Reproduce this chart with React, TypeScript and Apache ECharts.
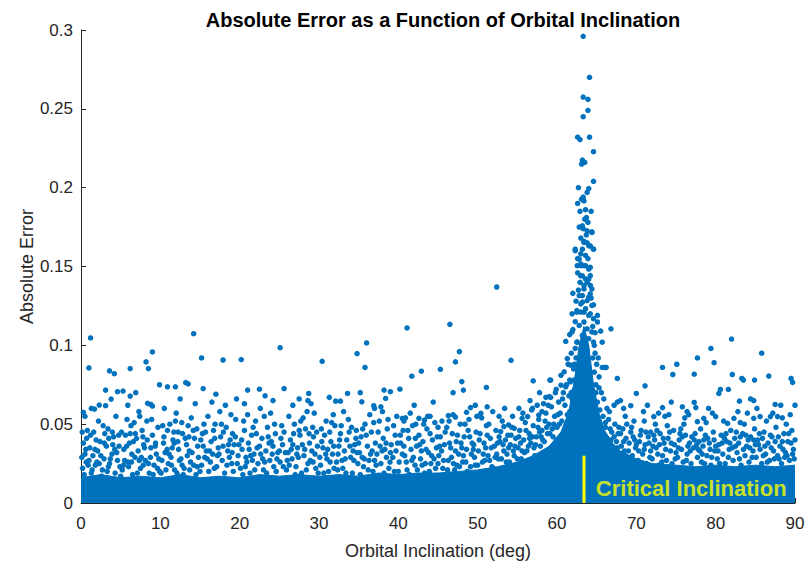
import React, { useEffect, useRef } from "react";
import * as echarts from "echarts";

const BLUE = "#0072BD";
const FONT = "Liberation Sans, Arial, Helvetica, sans-serif";

// Upper edge of the saturated (solid) band of points
const bandInclination = [0, 2.5, 5, 7.5, 10, 12.5, 15, 17.5, 20, 22.5, 25, 27.5, 30, 32.5, 35, 37.5, 40, 42.5, 45, 47.5, 50, 52.5, 55, 57, 59, 60.5, 61.5, 62.2, 62.8, 63.4, 64.0, 64.6, 65.3, 66, 67, 68, 70, 72, 75, 77.5, 80, 82.5, 85, 87.5, 90];
const bandTop = [0.016, 0.018, 0.016, 0.017, 0.016, 0.018, 0.016, 0.017, 0.016, 0.018, 0.017, 0.018, 0.017, 0.018, 0.017, 0.019, 0.018, 0.019, 0.019, 0.02, 0.021, 0.023, 0.026, 0.03, 0.036, 0.045, 0.058, 0.078, 0.1, 0.112, 0.1, 0.075, 0.057, 0.046, 0.038, 0.033, 0.028, 0.025, 0.024, 0.023, 0.024, 0.023, 0.024, 0.023, 0.024];

// Scattered points, 0-30 deg
const pointsLeftA: [number, number][] = [
  [0.2, 0.022], [0.5, 0.031], [0.3, 0.038], [0.7, 0.041], [1.0, 0.027], [1.3, 0.019], [1.1, 0.035], [1.6, 0.045], [1.8, 0.024], [2.1, 0.033],
  [2.4, 0.039], [2.2, 0.052], [2.7, 0.021], [2.9, 0.028], [3.2, 0.036], [3.4, 0.047], [3.6, 0.025], [3.9, 0.031], [4.1, 0.042], [4.3, 0.019],
  [4.6, 0.027], [4.8, 0.036], [4.4, 0.055], [3.0, 0.044], [1.5, 0.030], [0.1, 0.029], [2.6, 0.017], [4.9, 0.023], [0.5, 0.055],
  [0.3, 0.0575], [1.3, 0.060], [1.7, 0.0596], [2.3, 0.0621], [3.1, 0.0617], [3.8, 0.0659], [3.1, 0.0716], [4.6, 0.0706], [3.6, 0.0838], [4.2, 0.082],
  [1.2, 0.1047], [1.0, 0.0857],
  [5.2, 0.021], [5.4, 0.034], [5.6, 0.043], [5.9, 0.026], [6.1, 0.038], [6.3, 0.049], [6.5, 0.018], [6.8, 0.029], [7.0, 0.041], [7.2, 0.033],
  [7.5, 0.022], [7.7, 0.046], [7.9, 0.037], [8.1, 0.027], [8.3, 0.052], [8.6, 0.019], [8.8, 0.035], [9.0, 0.043], [9.2, 0.024], [9.5, 0.031],
  [9.7, 0.048], [9.9, 0.02], [5.8, 0.053], [7.4, 0.055], [6.6, 0.039],
  [5.3, 0.071], [6.2, 0.0678], [6.9, 0.070], [6.2, 0.0853], [8.2, 0.0895], [8.5, 0.0853], [9.0, 0.0958], [8.4, 0.0632], [8.8, 0.0625], [9.0, 0.0615],
  [9.9, 0.075], [5.9, 0.062], [7.3, 0.058],
  [10.2, 0.027], [10.4, 0.038], [10.7, 0.021], [10.9, 0.046], [11.1, 0.031], [11.4, 0.024], [11.6, 0.04], [11.9, 0.052], [12.1, 0.019], [12.3, 0.034],
  [12.6, 0.028], [12.8, 0.044], [13.0, 0.022], [13.3, 0.037], [13.5, 0.049], [13.8, 0.026], [14.0, 0.032], [14.3, 0.041], [14.5, 0.018], [14.8, 0.029],
  [12.0, 0.057], [13.9, 0.054], [11.2, 0.05], [14.6, 0.047], [10.5, 0.06],
  [10.9, 0.0737], [11.9, 0.0737], [13.2, 0.0764], [13.5, 0.0756], [14.2, 0.1074], [12.5, 0.066], [14.4, 0.063],
];

const pointsLeftB: [number, number][] = [
  [15.2, 0.024], [15.4, 0.036], [15.7, 0.045], [15.9, 0.028], [16.1, 0.02], [16.4, 0.039], [16.6, 0.031], [16.9, 0.05], [17.1, 0.023], [17.3, 0.035],
  [17.6, 0.042], [17.8, 0.027], [18.1, 0.019], [18.3, 0.048], [18.5, 0.033], [18.8, 0.04], [19.0, 0.025], [19.3, 0.037], [19.5, 0.053], [19.8, 0.03],
  [16.0, 0.055], [17.5, 0.058], [18.9, 0.056], [15.5, 0.05],
  [15.2, 0.092], [15.4, 0.0726], [17.9, 0.0907], [16.5, 0.064], [18.2, 0.062], [19.6, 0.066], [17.0, 0.069],
  [20.1, 0.022], [20.3, 0.034], [20.6, 0.046], [20.8, 0.029], [21.1, 0.038], [21.3, 0.019], [21.5, 0.043], [21.8, 0.031], [22.0, 0.052], [22.3, 0.025],
  [22.5, 0.036], [22.8, 0.041], [23.0, 0.021], [23.3, 0.033], [23.5, 0.048], [23.8, 0.027], [24.0, 0.039], [24.3, 0.023], [24.5, 0.044], [24.8, 0.032],
  [21.0, 0.056], [23.9, 0.057], [22.6, 0.06],
  [20.2, 0.091], [21.0, 0.0716], [22.5, 0.0722], [24.2, 0.065], [20.6, 0.063], [23.2, 0.068],
  [25.1, 0.026], [25.4, 0.037], [25.6, 0.045], [25.9, 0.021], [26.1, 0.032], [26.4, 0.04], [26.6, 0.028], [26.9, 0.05], [27.1, 0.023], [27.3, 0.035],
  [27.6, 0.043], [27.8, 0.019], [28.1, 0.03], [28.3, 0.047], [28.6, 0.025], [28.8, 0.038], [29.1, 0.033], [29.3, 0.042], [29.6, 0.022], [29.8, 0.036],
  [26.2, 0.055], [28.0, 0.054], [29.4, 0.057],
  [25.1, 0.0985], [25.6, 0.0726], [28.7, 0.0695], [28.6, 0.065], [26.7, 0.062], [27.5, 0.066], [29.0, 0.063],
];

// Scattered points, 30-61.5 deg
const pointsMiddle: [number, number][] = [
  [30.2, 0.024], [30.5, 0.035], [30.7, 0.043], [31.0, 0.028], [31.2, 0.02], [31.5, 0.039], [31.7, 0.031], [32.0, 0.049], [32.2, 0.026], [32.5, 0.036],
  [32.7, 0.044], [33.0, 0.022], [33.2, 0.033], [33.5, 0.04], [33.7, 0.053], [34.0, 0.029], [34.2, 0.019], [34.5, 0.037], [34.7, 0.046], [34.9, 0.025],
  [31.8, 0.056], [33.1, 0.058], [30.9, 0.052],
  [30.4, 0.0899], [31.3, 0.067], [32.1, 0.0646], [32.7, 0.0646], [33.6, 0.0695], [34.8, 0.0948],
  [35.1, 0.032], [35.3, 0.042], [35.6, 0.023], [35.8, 0.05], [36.1, 0.036], [36.3, 0.027], [36.6, 0.045], [36.8, 0.02], [37.1, 0.038], [37.3, 0.031],
  [37.6, 0.052], [37.8, 0.025], [38.1, 0.041], [38.3, 0.034], [38.6, 0.047], [38.8, 0.022], [39.1, 0.037], [39.3, 0.029], [39.6, 0.043], [39.8, 0.055],
  [36.4, 0.056], [37.0, 0.06],
  [36.0, 0.1015], [35.8, 0.086], [35.2, 0.070], [35.4, 0.0642], [36.9, 0.0617], [37.8, 0.061], [38.0, 0.058], [38.2, 0.0716], [39.0, 0.0706], [38.4, 0.0663],
  [40.1, 0.026], [40.3, 0.038], [40.6, 0.046], [40.8, 0.03], [41.1, 0.021], [41.3, 0.041], [41.6, 0.034], [41.8, 0.049], [42.1, 0.024], [42.3, 0.036],
  [42.6, 0.043], [42.8, 0.028], [43.1, 0.039], [43.3, 0.019], [43.6, 0.047], [43.8, 0.032], [44.1, 0.025], [44.3, 0.04], [44.6, 0.051], [44.8, 0.035],
  [41.5, 0.057], [44.0, 0.055], [42.0, 0.062], [44.4, 0.064],
  [40.2, 0.0722], [40.5, 0.0537], [40.9, 0.054], [41.1, 0.111], [41.7, 0.0804], [42.9, 0.0836], [42.6, 0.0537], [43.3, 0.0526], [43.2, 0.05],
  [45.1, 0.03], [45.3, 0.042], [45.6, 0.022], [45.8, 0.037], [46.1, 0.048], [46.3, 0.027], [46.6, 0.035], [46.8, 0.044], [47.1, 0.021], [47.3, 0.039],
  [47.6, 0.031], [47.8, 0.05], [48.1, 0.026], [48.3, 0.042], [48.6, 0.034], [48.8, 0.046], [49.1, 0.023], [49.3, 0.038], [49.6, 0.029], [49.8, 0.045],
  [45.5, 0.052], [46.9, 0.056], [48.9, 0.053], [49.5, 0.037], [47.4, 0.024],
  [45.3, 0.0848], [46.5, 0.1133], [47.7, 0.096], [47.2, 0.0895], [48.0, 0.077], [48.2, 0.0716], [46.9, 0.070], [46.3, 0.0554], [47.2, 0.0545],
  [48.6, 0.0575], [49.1, 0.0605], [49.7, 0.062],
  [50.1, 0.033], [50.3, 0.044], [50.6, 0.026], [50.8, 0.038], [51.1, 0.049], [51.3, 0.03], [51.6, 0.041], [51.8, 0.023], [52.1, 0.036], [52.3, 0.046],
  [52.6, 0.028], [52.8, 0.039], [53.1, 0.052], [53.3, 0.033], [53.6, 0.026], [53.8, 0.043], [54.1, 0.037], [54.3, 0.048], [54.6, 0.03], [54.8, 0.041],
  [50.5, 0.054], [51.9, 0.058], [52.4, 0.031], [53.9, 0.035], [54.4, 0.055], [50.9, 0.027],
  [50.4, 0.0569], [51.2, 0.061], [51.1, 0.0733], [52.4, 0.137], [54.2, 0.0905], [53.3, 0.0485], [53.9, 0.0495], [52.9, 0.0453], [54.6, 0.0474],
  [55.1, 0.035], [55.3, 0.046], [55.5, 0.028], [55.8, 0.04], [56.0, 0.051], [56.2, 0.033], [56.5, 0.044], [56.7, 0.038], [57.0, 0.049], [57.2, 0.03],
  [57.4, 0.042], [57.7, 0.053], [57.9, 0.036], [58.1, 0.046], [58.4, 0.039], [58.6, 0.057], [58.8, 0.044], [59.0, 0.05], [59.3, 0.061], [59.5, 0.042],
  [59.7, 0.055], [60.0, 0.048], [60.2, 0.064], [60.4, 0.057], [60.6, 0.052], [60.8, 0.07], [61.0, 0.062], [61.2, 0.075], [61.3, 0.056], [61.5, 0.068],
  [56.8, 0.059], [58.3, 0.063], [59.9, 0.072], [60.5, 0.081], [61.4, 0.088], [59.2, 0.067], [57.5, 0.062],
  [55.2, 0.06], [55.6, 0.0537], [56.3, 0.0548], [56.9, 0.06], [57.7, 0.0558], [58.1, 0.058], [59.0, 0.0674], [57.0, 0.0775], [59.1, 0.078],
  [58.6, 0.067], [59.8, 0.070], [59.2, 0.078], [61.3, 0.0916], [61.7, 0.0874], [60.9, 0.0832], [60.5, 0.0747], [61.1, 0.0737], [61.7, 0.0769],
];

// Peak near the critical inclination
const pointsPeak: [number, number][] = [
  [63.3, 0.296], [64.1, 0.270], [63.3, 0.2575], [63.9, 0.256], [63.9, 0.249], [63.3, 0.245], [62.6, 0.232], [62.9, 0.2305], [64.1, 0.232], [64.6, 0.2228],
  [63.1, 0.215], [63.5, 0.216], [63.2, 0.2175], [64.6, 0.204], [64.0, 0.1994], [63.8, 0.197], [63.3, 0.194], [63.1, 0.1927], [62.6, 0.19], [63.4, 0.1916],
  [63.6, 0.186], [63.5, 0.18], [63.7, 0.181], [62.8, 0.175], [63.3, 0.174], [64.4, 0.172], [63.4, 0.166], [63.8, 0.165], [64.2, 0.163], [64.6, 0.161],
  [62.3, 0.16], [62.6, 0.155], [63.0, 0.1505], [63.6, 0.1505], [64.2, 0.1495], [62.6, 0.146], [63.2, 0.144], [64.0, 0.142], [63.4, 0.138], [64.2, 0.138],
  [62.0, 0.133], [63.2, 0.1316], [64.2, 0.1327], [63.8, 0.1284], [63.0, 0.1263], [64.6, 0.1257], [61.9, 0.12], [62.5, 0.122], [63.4, 0.121], [64.2, 0.12],
  [65.1, 0.119], [66.8, 0.1105], [61.1, 0.1025], [61.6, 0.1068], [62.5, 0.102], [65.5, 0.109], [65.7, 0.102],
  [63.6, 0.18], [63.2, 0.1758], [63.8, 0.1726], [64.4, 0.1716], [63.4, 0.1653], [64.0, 0.1632], [64.6, 0.161], [63.2, 0.161], [63.6, 0.157],
  [62.3, 0.161], [62.8, 0.1547], [63.0, 0.1516], [63.4, 0.1505], [64.0, 0.1484], [64.2, 0.1442], [63.6, 0.1421],
  [62.55, 0.1505], [62.97, 0.1442], [63.8, 0.14], [64.4, 0.1358], [63.4, 0.1358], [62.8, 0.1316], [64.0, 0.1306], [63.2, 0.1274], [64.4, 0.1253],
  [63.6, 0.1232], [63.0, 0.1211], [64.0, 0.119], [64.6, 0.1169], [63.4, 0.1148], [62.8, 0.1126], [63.8, 0.1105], [64.4, 0.1085], [65.1, 0.1148],
  [63.2, 0.1063], [64.0, 0.1042], [62.55, 0.1021], [64.6, 0.1021], [63.6, 0.1], [61.9, 0.1085], [62.5, 0.121],
  [61.8, 0.095], [62.1, 0.085], [61.6, 0.078], [62.2, 0.072], [61.9, 0.066], [64.8, 0.095], [65.0, 0.088], [65.3, 0.08], [64.9, 0.075], [65.6, 0.07],
  [65.9, 0.066], [66.3, 0.06], [62.3, 0.098], [64.7, 0.1], [65.2, 0.092], [66.0, 0.086],
  [61.6, 0.058], [61.8, 0.07], [62.0, 0.06], [62.1, 0.078], [62.4, 0.092], [62.2, 0.088], [64.5, 0.092], [64.7, 0.083], [64.9, 0.07], [65.1, 0.064],
  [65.4, 0.059], [65.3, 0.073], [65.8, 0.055], [66.1, 0.051], [62.0, 0.11], [62.3, 0.115], [62.7, 0.135], [62.9, 0.14], [63.0, 0.158], [63.9, 0.155],
  [64.3, 0.13], [64.5, 0.112], [64.8, 0.108], [62.4, 0.128], [63.7, 0.17], [63.0, 0.168], [62.9, 0.185], [63.9, 0.178], [64.3, 0.185], [62.7, 0.2],
];

// Scattered points, 65.5-90 deg
const pointsRight: [number, number][] = [
  [65.7, 0.086], [66.2, 0.086], [67.6, 0.079], [71.1, 0.0743], [70.0, 0.0695], [73.3, 0.086], [75.1, 0.088], [74.6, 0.0815], [77.7, 0.092], [79.4, 0.098],
  [79.8, 0.089], [77.3, 0.0817], [82.0, 0.104], [82.1, 0.0815], [83.3, 0.079], [83.5, 0.078], [84.9, 0.078], [85.8, 0.095], [86.7, 0.0805], [89.5, 0.079],
  [89.7, 0.0765], [90.0, 0.062], [87.5, 0.0625], [84.4, 0.066], [84.8, 0.065], [83.0, 0.0646], [81.6, 0.072], [80.6, 0.072], [80.4, 0.0695], [79.1, 0.06],
  [80.0, 0.0548], [77.3, 0.0638], [77.5, 0.0605], [75.8, 0.061], [76.4, 0.058], [76.6, 0.056], [74.4, 0.064], [73.3, 0.0605], [72.8, 0.057], [72.2, 0.0548],
  [69.3, 0.0617], [68.0, 0.065], [67.6, 0.064], [86.9, 0.0548], [87.8, 0.0548], [88.4, 0.054], [89.4, 0.056], [85.6, 0.0548], [84.8, 0.0537], [84.0, 0.057],
  [82.3, 0.0537], [81.5, 0.0505], [83.1, 0.051], [78.5, 0.0537], [77.7, 0.0516], [78.1, 0.047], [72.6, 0.046], [71.8, 0.045], [73.9, 0.049], [74.7, 0.046],
  [75.6, 0.047],
  [66.1, 0.048], [66.3, 0.041], [66.5, 0.053], [66.7, 0.036], [66.9, 0.045], [67.1, 0.031], [67.3, 0.05], [67.5, 0.039], [67.7, 0.044], [67.9, 0.028],
  [68.1, 0.036], [68.3, 0.047], [68.5, 0.033], [68.7, 0.041], [68.9, 0.026], [69.1, 0.038], [69.3, 0.045], [69.5, 0.03], [69.7, 0.052], [69.9, 0.035],
  [66.6, 0.058], [67.2, 0.062], [68.6, 0.055], [69.6, 0.042],
  [70.2, 0.027], [70.4, 0.039], [70.6, 0.046], [70.8, 0.031], [71.1, 0.037], [71.3, 0.025], [71.5, 0.042], [71.8, 0.033], [72.0, 0.028], [72.3, 0.04],
  [72.5, 0.035], [72.8, 0.024], [73.0, 0.044], [73.3, 0.03], [73.5, 0.038], [73.8, 0.027], [74.0, 0.041], [74.3, 0.033], [74.5, 0.025], [74.8, 0.037],
  [71.0, 0.052], [72.4, 0.05], [73.6, 0.055],
  [75.2, 0.029], [75.4, 0.04], [75.7, 0.034], [75.9, 0.026], [76.2, 0.043], [76.4, 0.031], [76.7, 0.038], [76.9, 0.025], [77.2, 0.035], [77.4, 0.044],
  [77.7, 0.029], [77.9, 0.039], [78.2, 0.026], [78.4, 0.036], [78.7, 0.043], [78.9, 0.03], [79.2, 0.038], [79.4, 0.024], [79.7, 0.045], [79.9, 0.033],
  [76.0, 0.05], [78.8, 0.051],
  [80.2, 0.028], [80.4, 0.037], [80.7, 0.043], [80.9, 0.031], [81.2, 0.025], [81.4, 0.039], [81.7, 0.034], [81.9, 0.046], [82.2, 0.027], [82.4, 0.041],
  [82.7, 0.032], [82.9, 0.038], [83.2, 0.024], [83.4, 0.044], [83.7, 0.03], [83.9, 0.036], [84.2, 0.026], [84.4, 0.042], [84.7, 0.033], [84.9, 0.047],
  [81.0, 0.052], [83.6, 0.05],
  [85.1, 0.029], [85.3, 0.04], [85.6, 0.034], [85.8, 0.025], [86.1, 0.045], [86.3, 0.031], [86.6, 0.038], [86.8, 0.027], [87.1, 0.042], [87.3, 0.033],
  [87.6, 0.048], [87.8, 0.03], [88.1, 0.036], [88.3, 0.025], [88.6, 0.044], [88.8, 0.032], [89.1, 0.039], [89.3, 0.027], [89.6, 0.046], [89.8, 0.034],
  [90.0, 0.04], [86.4, 0.052], [88.9, 0.05],
];

// Further points filling the speckled zone just above the solid band
const pointsFill: [number, number][] = [
  [0.4, 0.018], [0.9, 0.024], [1.4, 0.021], [2.0, 0.026], [2.5, 0.03], [3.3, 0.02], [3.7, 0.028], [4.5, 0.032], [5.0, 0.017], [5.5, 0.027],
  [6.0, 0.023], [6.4, 0.031], [7.1, 0.019], [7.6, 0.029], [8.0, 0.035], [8.5, 0.025], [9.1, 0.018], [9.4, 0.038], [9.8, 0.028], [0.8, 0.046],
  [1.9, 0.04], [2.8, 0.049], [4.0, 0.037], [5.1, 0.045], [6.7, 0.051], [7.8, 0.042], [8.9, 0.053], [0.6, 0.034], [3.5, 0.041], [6.2, 0.044],
  [10.1, 0.019], [10.6, 0.032], [11.0, 0.025], [11.5, 0.035], [11.8, 0.021], [12.4, 0.027], [12.9, 0.018], [13.4, 0.03], [13.7, 0.021], [14.2, 0.024],
  [14.7, 0.036], [15.0, 0.02], [15.6, 0.029], [16.2, 0.033], [16.8, 0.022], [17.2, 0.03], [17.9, 0.036], [18.4, 0.024], [18.7, 0.029], [19.2, 0.02],
  [19.7, 0.025], [10.3, 0.049], [11.7, 0.045], [12.7, 0.051], [13.6, 0.042], [15.1, 0.04], [16.7, 0.046], [17.7, 0.05], [19.1, 0.044], [12.2, 0.039],
  [20.4, 0.018], [20.9, 0.026], [21.4, 0.03], [21.9, 0.021], [22.2, 0.035], [22.9, 0.028], [23.4, 0.019], [23.7, 0.038], [24.1, 0.031], [24.6, 0.02],
  [25.0, 0.033], [25.5, 0.023], [26.0, 0.027], [26.5, 0.034], [27.0, 0.018], [27.4, 0.029], [27.9, 0.037], [28.4, 0.021], [28.9, 0.027], [29.5, 0.031],
  [29.9, 0.019], [20.5, 0.052], [21.7, 0.048], [23.1, 0.055], [24.4, 0.05], [25.3, 0.049], [26.8, 0.044], [27.7, 0.052], [29.2, 0.048], [28.5, 0.058],
  [30.1, 0.029], [30.6, 0.019], [31.1, 0.034], [31.4, 0.026], [31.9, 0.022], [32.4, 0.031], [32.9, 0.027], [33.4, 0.019], [33.9, 0.036], [34.4, 0.027],
  [34.8, 0.032], [35.2, 0.018], [35.7, 0.028], [36.2, 0.021], [36.7, 0.033], [37.2, 0.024], [37.7, 0.036], [38.2, 0.019], [38.5, 0.029], [39.0, 0.032],
  [39.5, 0.02], [39.9, 0.038], [30.3, 0.047], [31.6, 0.051], [32.8, 0.049], [34.1, 0.048], [35.5, 0.047], [36.9, 0.051], [38.7, 0.053], [39.4, 0.049],
  [40.0, 0.02], [40.5, 0.031], [41.0, 0.026], [41.4, 0.018], [41.9, 0.029], [42.4, 0.021], [42.9, 0.033], [43.4, 0.025], [43.9, 0.02], [44.2, 0.03],
  [44.7, 0.022], [45.2, 0.036], [45.7, 0.027], [46.2, 0.021], [46.7, 0.029], [47.2, 0.033], [47.7, 0.023], [48.2, 0.03], [48.7, 0.02], [49.2, 0.031],
  [49.7, 0.024], [40.7, 0.052], [42.2, 0.05], [43.7, 0.055], [45.0, 0.048], [46.4, 0.052], [48.4, 0.05], [49.9, 0.055], [47.9, 0.038], [44.9, 0.042],
  [50.0, 0.024], [50.5, 0.02], [51.0, 0.035], [51.5, 0.027], [52.0, 0.022], [52.5, 0.038], [53.0, 0.028], [53.5, 0.04], [54.0, 0.026], [54.5, 0.033],
  [55.0, 0.028], [55.4, 0.038], [55.9, 0.032], [56.4, 0.036], [56.9, 0.042], [57.3, 0.037], [57.8, 0.045], [58.2, 0.04], [58.7, 0.048], [59.1, 0.044],
  [59.6, 0.05], [51.4, 0.05], [52.7, 0.055], [53.4, 0.06], [55.7, 0.057], [56.6, 0.065], [57.8, 0.07], [58.9, 0.062], [60.1, 0.056], [60.7, 0.066],
  [66.4, 0.034], [66.8, 0.04], [67.4, 0.033], [67.8, 0.048], [68.2, 0.03], [68.8, 0.05], [69.2, 0.028], [69.8, 0.04], [70.3, 0.033], [70.7, 0.025],
  [71.2, 0.045], [71.7, 0.029], [72.1, 0.036], [72.7, 0.031], [73.2, 0.026], [73.7, 0.034], [74.2, 0.045], [74.9, 0.028], [75.3, 0.035], [75.8, 0.042],
  [76.3, 0.027], [76.8, 0.033], [77.3, 0.04], [77.8, 0.034], [78.3, 0.031], [78.6, 0.025], [79.0, 0.041], [79.5, 0.029], [80.0, 0.036], [80.5, 0.025],
  [81.1, 0.041], [81.6, 0.029], [82.1, 0.035], [82.6, 0.045], [83.0, 0.028], [83.5, 0.034], [84.1, 0.04], [84.6, 0.029], [85.0, 0.037], [85.5, 0.044],
  [86.0, 0.03], [86.5, 0.026], [87.0, 0.035], [87.5, 0.039], [88.0, 0.028], [88.5, 0.034], [89.0, 0.03], [89.5, 0.038], [89.9, 0.028], [70.9, 0.058],
  [74.1, 0.056], [76.1, 0.054], [79.6, 0.057], [82.8, 0.058], [85.2, 0.06], [87.2, 0.057], [88.2, 0.062], [68.4, 0.06], [71.4, 0.062],
];

// More points in the 0.02-0.05 speckled zone
const pointsFillMore: [number, number][] = [
  [0.15, 0.045], [0.65, 0.026], [1.2, 0.043], [1.75, 0.034], [2.3, 0.025], [2.95, 0.038], [3.45, 0.023], [3.95, 0.045], [4.25, 0.034], [4.75, 0.043],
  [5.35, 0.024], [5.75, 0.036], [6.35, 0.026], [6.85, 0.044], [7.35, 0.027], [7.85, 0.024], [8.35, 0.04], [8.75, 0.029], [9.35, 0.036], [9.65, 0.022],
  [10.45, 0.042], [10.85, 0.034], [11.35, 0.029], [11.75, 0.038], [12.25, 0.045], [12.75, 0.024], [13.15, 0.041], [13.65, 0.033], [14.15, 0.046], [14.65, 0.023],
  [15.3, 0.044], [15.8, 0.033], [16.3, 0.026], [16.85, 0.041], [17.4, 0.031], [17.95, 0.045], [18.6, 0.037], [19.05, 0.032], [19.45, 0.042], [19.9, 0.037],
  [20.25, 0.04], [20.7, 0.023], [21.2, 0.034], [21.6, 0.027], [22.1, 0.044], [22.65, 0.031], [23.15, 0.026], [23.6, 0.042], [24.2, 0.036], [24.7, 0.028],
  [25.2, 0.041], [25.75, 0.032], [26.25, 0.024], [26.7, 0.037], [27.2, 0.031], [27.5, 0.046], [28.2, 0.034], [28.75, 0.044], [29.25, 0.026], [29.7, 0.045],
  [30.35, 0.039], [30.85, 0.031], [31.35, 0.045], [31.85, 0.036], [32.35, 0.021], [32.6, 0.04], [33.3, 0.028], [33.8, 0.045], [34.3, 0.033], [34.65, 0.041],
  [35.0, 0.038], [35.45, 0.029], [35.95, 0.043], [36.5, 0.031], [37.0, 0.027], [37.45, 0.045], [37.95, 0.033], [38.45, 0.038], [38.95, 0.026], [39.7, 0.033],
  [40.25, 0.043], [40.7, 0.036], [41.2, 0.046], [41.7, 0.027], [42.15, 0.041], [42.7, 0.037], [43.0, 0.024], [43.5, 0.034], [44.0, 0.044], [44.5, 0.028],
  [45.0, 0.025], [45.45, 0.033], [45.9, 0.045], [46.45, 0.038], [46.95, 0.025], [47.45, 0.043], [48.0, 0.035], [48.5, 0.026], [49.0, 0.042], [49.45, 0.034],
  [50.2, 0.04], [50.7, 0.031], [51.2, 0.043], [51.7, 0.035], [52.2, 0.029], [52.7, 0.042], [53.2, 0.037], [53.7, 0.031], [54.2, 0.043], [54.7, 0.036],
  [55.2, 0.042], [55.6, 0.033], [56.1, 0.046], [56.55, 0.041], [57.1, 0.035], [57.6, 0.048], [58.0, 0.042], [58.5, 0.052], [59.4, 0.047], [60.3, 0.05],
  [66.2, 0.038], [66.7, 0.047], [67.2, 0.042], [67.6, 0.035], [68.0, 0.044], [68.4, 0.039], [69.0, 0.033], [69.4, 0.048], [70.0, 0.037], [70.5, 0.043],
  [71.0, 0.034], [71.6, 0.038], [72.2, 0.043], [72.9, 0.037], [73.4, 0.041], [74.4, 0.038], [75.0, 0.032], [75.5, 0.044], [76.5, 0.036], [77.0, 0.042],
  [77.6, 0.037], [78.0, 0.033], [78.5, 0.04], [79.3, 0.034], [79.8, 0.04], [80.3, 0.033], [80.8, 0.038], [81.3, 0.044], [81.8, 0.038], [82.5, 0.036],
  [83.1, 0.042], [83.8, 0.043], [84.3, 0.035], [84.8, 0.04], [85.4, 0.037], [85.9, 0.041], [86.2, 0.036], [86.9, 0.043], [87.4, 0.028], [87.9, 0.042],
  [88.4, 0.039], [88.7, 0.029], [89.2, 0.044], [89.7, 0.031],
];

const criticalInclination = 63.4;
const criticalLineTop = 0.03;
const annotationText = "Critical Inclination";

const xTicks = [0, 10, 20, 30, 40, 50, 60, 70, 80, 90];
const yTicks = [0, 0.05, 0.1, 0.15, 0.2, 0.25, 0.3];

export default function App() {
  const ref = useRef<HTMLDivElement>(null);
  useEffect(() => {
    if (!ref.current) return;
    const chart = echarts.init(ref.current, null, { renderer: "svg" });
    const allPoints = [...pointsLeftA, ...pointsLeftB, ...pointsMiddle, ...pointsPeak, ...pointsRight, ...pointsFill, ...pointsFillMore];
    const band = bandInclination.map((x, i) => [x, bandTop[i]]);
    chart.setOption({
      animation: false,
      backgroundColor: "#ffffff",
      textStyle: { fontFamily: FONT },
      title: {
        text: "Absolute Error as a Function of Orbital Inclination",
        left: 438,
        top: 5,
        textAlign: "center",
        textStyle: { fontFamily: FONT, fontSize: 20, fontWeight: "bold", color: "#000000" },
      },
      grid: { left: 81, right: 13, top: 30, bottom: 65, containLabel: false },
      xAxis: {
        type: "value",
        min: xTicks[0],
        max: xTicks[xTicks.length - 1],
        interval: 10,
        name: "Orbital Inclination (deg)",
        nameLocation: "middle",
        nameGap: 39,
        nameMoveOverlap: false,
        nameTextStyle: { fontFamily: FONT, fontSize: 18, color: "#262626" },
        axisLine: { show: true, lineStyle: { color: "#262626", width: 1 } },
        axisTick: { show: true, inside: true, length: 5, lineStyle: { color: "#262626" } },
        axisLabel: { fontFamily: FONT, fontSize: 17, color: "#262626", margin: 12 },
        splitLine: { show: false },
      },
      yAxis: {
        type: "value",
        min: yTicks[0],
        max: yTicks[yTicks.length - 1],
        interval: 0.05,
        name: "Absolute Error",
        nameLocation: "middle",
        nameGap: 45,
        nameMoveOverlap: false,
        nameTextStyle: { fontFamily: FONT, fontSize: 18, color: "#262626" },
        axisLine: { show: true, lineStyle: { color: "#262626", width: 1 } },
        axisTick: { show: true, inside: true, length: 5, lineStyle: { color: "#262626" } },
        axisLabel: {
          fontFamily: FONT,
          fontSize: 17,
          color: "#262626",
          margin: 8,
          formatter: (v: number) => String(parseFloat(v.toFixed(2))),
        },
        splitLine: { show: false },
      },
      series: [
        {
          name: "dense band",
          type: "line",
          data: band,
          symbol: "none",
          smooth: false,
          lineStyle: { color: BLUE, width: 1 },
          areaStyle: { color: BLUE, opacity: 1 },
          z: 2,
          silent: true,
        },
        {
          name: "points",
          type: "scatter",
          data: allPoints,
          symbol: "circle",
          symbolSize: 5.5,
          itemStyle: { color: BLUE, opacity: 1 },
          z: 3,
          silent: true,
        },
        {
          name: "critical line",
          type: "line",
          data: [[criticalInclination, 0], [criticalInclination, criticalLineTop]],
          symbol: "none",
          lineStyle: { color: "#FFFF00", width: 3 },
          z: 5,
          silent: true,
        },
        {
          name: "annotation",
          type: "scatter",
          data: [[64.9, 0.009]],
          symbolSize: 0,
          z: 6,
          silent: true,
          label: {
            show: true,
            position: "right",
            distance: 0,
            formatter: annotationText,
            fontFamily: FONT,
            fontSize: 22,
            fontWeight: "bold",
            color: "#FFFF00",
          },
        },
      ],
    });
    return () => chart.dispose();
  }, []);
  return <div ref={ref} style={{ position: "absolute", left: 0, top: 0, width: 808, height: 568 }} />;
}
